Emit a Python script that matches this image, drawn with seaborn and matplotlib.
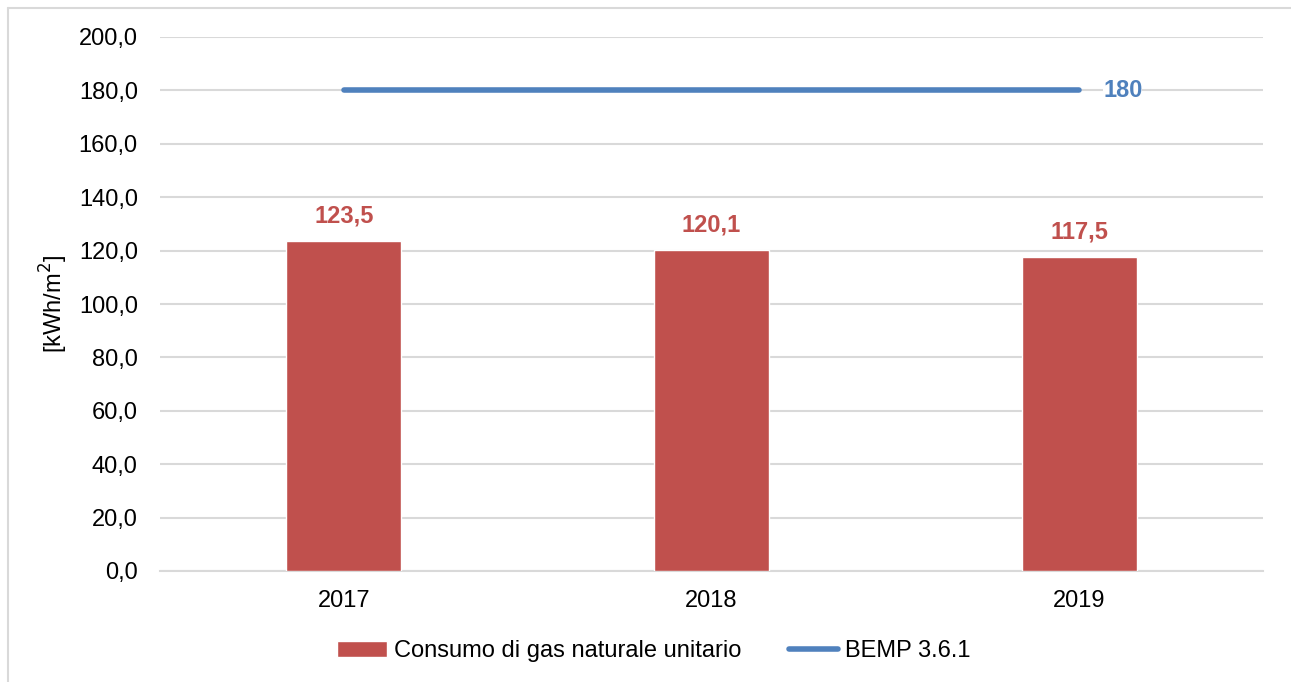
import pandas as pd
import numpy as np
import matplotlib.pyplot as plt
import seaborn as sns
from matplotlib.lines import Line2D

years = ['2017', '2018', '2019']
consumo = [123.5, 120.1, 117.5]
bemp = [180, 180, 180]
yticks = np.arange(0, 201, 20)

red = '#C0504D'
blue = '#4F81BD'
grid = '#D9D9D9'

sns.set_style('white')
plt.rcParams['font.family'] = ['Liberation Sans', 'DejaVu Sans']

fig = plt.figure(figsize=(12.91, 6.82), dpi=100)
ax = fig.add_axes([160/1291, 1 - 571/682, 1103/1291, 534/682])

df = pd.DataFrame({'anno': years, 'valore': consumo})
sns.barplot(data=df, x='anno', y='valore', color=red, saturation=1, width=0.313,
            ax=ax, label='Consumo di gas naturale unitario', zorder=3)

# linea BEMP sulle tre categorie
xpos = np.arange(len(years))
sns.lineplot(x=xpos, y=bemp, color=blue, linewidth=4, solid_capstyle='round',
             ax=ax, label='BEMP 3.6.1', zorder=4)

for x, v in zip(xpos, consumo):
    ax.text(x, v + 5, f'{v:.1f}'.replace('.', ','), ha='center', va='bottom',
            color=red, fontsize=17, fontweight='bold')
ax.text(xpos[-1] + 0.065, bemp[-1], str(bemp[-1]), ha='left', va='center',
        color=blue, fontsize=17, fontweight='bold', zorder=5,
        bbox=dict(facecolor='white', edgecolor='none', pad=0))

ax.set_xlim(-0.5, 2.5)
ax.set_ylim(0, 200)
ax.set_yticks(yticks)
ax.set_yticklabels([f'{t:.1f}'.replace('.', ',') for t in yticks])
ax.yaxis.grid(True, color=grid, linewidth=1.5, zorder=0)
ax.set_axisbelow(True)
for s in ['top', 'right', 'left']:
    ax.spines[s].set_visible(False)
ax.spines['bottom'].set_color(grid)
ax.spines['bottom'].set_linewidth(1.5)
ax.tick_params(axis='both', length=0, labelsize=17, colors='black')
ax.tick_params(axis='y', pad=16)
ax.tick_params(axis='x', pad=14)
ax.set_xlabel('')
ax.set_ylabel('[kWh/m$^2$]', fontsize=17, labelpad=6, color='black')

handles, labels = ax.get_legend_handles_labels()
order = [labels.index('Consumo di gas naturale unitario'), labels.index('BEMP 3.6.1')]
leg = ax.legend([handles[i] for i in order], [labels[i] for i in order],
                loc='center', bbox_to_anchor=(0.448, -0.15),
                ncol=2, frameon=False, fontsize=17, handlelength=2.1,
                handletextpad=0.3, columnspacing=2.0)
for t in leg.get_texts():
    t.set_color('black')

# bordo del grafico (solo sopra e a sinistra visibili)
bx, by = 7.5/1291, 1 - 7.5/682
fig.add_artist(Line2D([bx, 1], [by, by], transform=fig.transFigure,
                      color=grid, linewidth=1.5))
fig.add_artist(Line2D([bx, bx], [0, by], transform=fig.transFigure,
                      color=grid, linewidth=1.5))

fig.savefig('out.png', dpi=100)
